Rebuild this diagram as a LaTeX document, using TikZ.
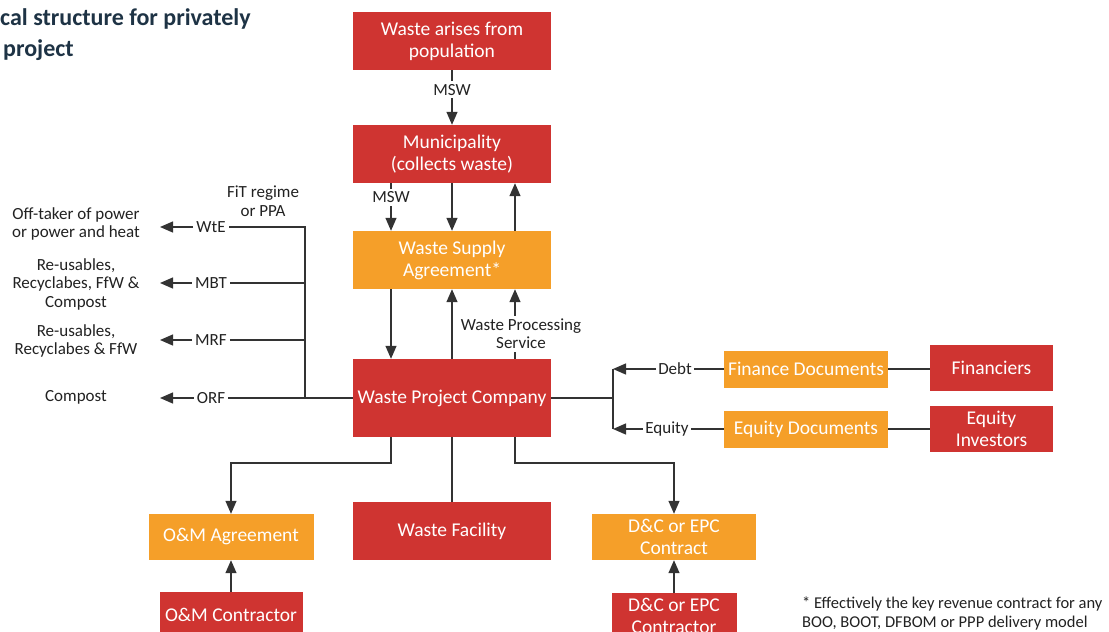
\documentclass[tikz,border=0pt]{standalone}
\usepackage{fontspec}
\setmainfont{Carlito}
\usetikzlibrary{arrows.meta}
\definecolor{wred}{HTML}{CF3431}
\definecolor{worange}{HTML}{F59F29}
\definecolor{wline}{HTML}{333333}
\definecolor{wtext}{HTML}{222222}
\definecolor{wtitle}{HTML}{1E3345}
\begin{document}
\begin{tikzpicture}[x=1pt,y=-1pt,
  box/.style={minimum width=198pt, minimum height=58pt, align=center, text=white, font=\fontsize{19.5}{22}\selectfont, inner sep=1pt},
  redbox/.style={box, fill=wred},
  orbox/.style={box, fill=worange},
  lbl/.style={font=\fontsize{17}{18.5}\selectfont, text=wtext, align=center, inner sep=3pt},
  tag/.style={lbl, inner sep=2pt},
  ln/.style={draw=wline, line width=1.3pt},
  arr/.style={ln, -{Triangle[length=13pt,width=11pt]}}
]
\clip (0,0) rectangle (1109,632);
\fill[white] (0,0) rectangle (1109,632);

% title
\node[anchor=west, font=\bfseries\fontsize{24}{26}\selectfont, text=wtitle, inner sep=0] (ttl1) at (0,19) {cal structure for privately};
\node[anchor=west, font=\bfseries\fontsize{24}{26}\selectfont, text=wtitle, inner sep=0] (ttl2) at (3,50) {project};

% helper coordinates
\coordinate (cL) at (391,0);
\coordinate (cR) at (515,0);
\coordinate (yb) at (0,463);
\coordinate (bl) at (305,0);
\coordinate (br) at (613,0);
\coordinate (tipx) at (160,0);

% central column
\node[redbox] (arise) at (452,41) {Waste arises from\\population};
\node[redbox] (muni) at (452,154) {Municipality\\(collects waste)};
\node[orbox] (wsa) at (452,260) {Waste Supply\\Agreement*};
\node[redbox, minimum height=78pt] (wpc) at (452,398) {Waste Project Company};
\node[redbox] (wf) at (452,531) {Waste Facility};

% bottom boxes
\node[orbox, minimum width=165pt, minimum height=46pt] (om) at (231,537) {O\&M Agreement};
\node[redbox, minimum width=143pt, minimum height=46pt] (omc) at (231,615) {O\&M Contractor};
\node[orbox, minimum width=164pt, minimum height=46pt] (dc) at (674,537) {D\&C or EPC\\Contract};
\node[redbox, minimum width=125pt, minimum height=46pt] (dcc) at (674,616) {D\&C or EPC\\Contractor};

% finance boxes
\node[orbox, minimum width=164pt, minimum height=37pt] (fd) at (806,369) {Finance Documents};
\node[redbox, minimum width=123pt, minimum height=46pt] (fin) at (991.5,368) {Financiers};
\node[orbox, minimum width=164pt, minimum height=37pt] (ed) at (806,429) {Equity Documents};
\node[redbox, minimum width=123pt, minimum height=46pt] (ei) at (991.5,429) {Equity\\Investors};

% left side labels
\node[lbl] (fit) at (263,201) {FiT regime\\or PPA};
\node[lbl] (wte) at (211,227) {WtE};
\node[lbl] (mbt) at (211,283) {MBT};
\node[lbl] (mrf) at (211,340) {MRF};
\node[lbl] (orf) at (211,398) {ORF};
\node[lbl] (off) at (76,224) {Off-taker of power\\or power and heat};
\node[lbl] (reu1) at (76,284) {Re-usables,\\Recyclabes, FfW \&\\Compost};
\node[lbl] (reu2) at (76,341) {Re-usables,\\Recyclabes \& FfW};
\node[lbl] (comp) at (76,397) {Compost};

% right side labels
\node[tag] (debt) at (675,369) {Debt};
\node[tag] (eq) at (667,429) {Equity};

% footnote
\node[anchor=west, font=\fontsize{16.5}{19}\selectfont, text=wtext, align=left, inner sep=0] (note) at (802,613) {* Effectively the key revenue contract for any\\BOO, BOOT, DFBOM or PPP delivery model};

% top connectors
\draw[arr] (arise) -- node[lbl, fill=white, pos=.36] (msw1) {MSW} (muni);
\draw[arr] (muni.south -| cL) -- node[lbl, fill=white, pos=.3] (msw2) {MSW} (wsa.north -| cL);
\draw[arr] (muni) -- (wsa);
\draw[arr] (wsa.north -| cR) -- (muni.south -| cR);
\draw[arr] (wsa.south -| cL) -- (wpc.north -| cL);
\draw[arr] (wpc) -- (wsa);
\draw[arr] (wpc.north -| cR) -- node[lbl, fill=white, pos=.36, xshift=6pt] (wps) {Waste Processing\\Service} (wsa.south -| cR);

% left bus
\draw[ln] (wpc.west) -| (bl |- wte) -- (wte.east);
\draw[ln] (mbt.east) -- (bl |- mbt);
\draw[ln] (mrf.east) -- (bl |- mrf);
\draw[ln] (orf.east) -- (bl |- orf);
\draw[arr] (wte.west) -- (tipx |- wte);
\draw[arr] (mbt.west) -- (tipx |- mbt);
\draw[arr] (mrf.west) -- (tipx |- mrf);
\draw[arr] (orf.west) -- (tipx |- orf);

% right bus
\draw[ln] (wpc.east) -- (br |- wpc.east);
\draw[ln] (br |- debt) -- (br |- eq);
\draw[arr] (debt.west) -- (br |- debt);
\draw[arr] (eq.west) -- (br |- eq);
\draw[ln] (fd.west) -- (debt.east);
\draw[ln] (ed.west) -- (eq.east);
\draw[ln] (fd.east) -- (fd.east -| fin.west);
\draw[ln] (ed.east) -- (ed.east -| ei.west);

% bottom connectors
\draw[arr] (wpc.south -| cL) -- (cL |- yb) -| (om.north);
\draw[arr] (wpc.south -| cR) -- (cR |- yb) -| (dc.north);
\draw[ln] (wpc) -- (wf);
\draw[arr] (omc) -- (om);
\draw[arr] (dcc) -- (dc);
\end{tikzpicture}
\end{document}
